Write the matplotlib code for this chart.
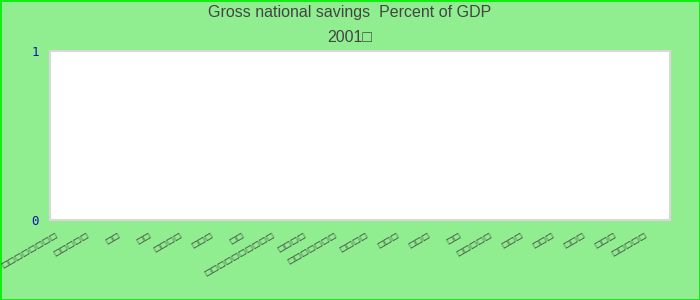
import numpy as np
import matplotlib.pyplot as plt

# category names render as missing-glyph boxes in the source chart
countries = [
    '□□□□□□□□', '□□□□□', '□□', '□□', '□□□□',
    '□□□', '□□', '□□□□□□□□□□', '□□□□', '□□□□□□□',
    '□□□□', '□□□', '□□□', '□□', '□□□□□',
    '□□□', '□□□', '□□□', '□□□', '□□□□□',
]
# no values shown for 2001
savings = [np.nan] * len(countries)

fig = plt.figure(figsize=(7, 3), dpi=100, facecolor='#90ee90',
                 edgecolor='#11ee11', linewidth=2)
ax = fig.add_axes([50/700, 1 - 220/300, 620/700, 169/300])
ax.set_facecolor('white')

x = np.arange(len(countries))
ax.bar(x, savings, width=0.6, color='#4572a7')
ax.set_xlim(-0.5, len(countries) - 0.5)
ax.set_ylim(0, 1)
ax.set_yticks([0, 1])
ax.set_yticklabels(['0', '1'], color='#1010b0', family='DejaVu Sans Mono',
                   fontsize=9)
# labels sit a little left of each category centre
ax.set_xticks(x - 0.34)
ax.set_xticklabels(countries, rotation=30, ha='right', va='top',
                   rotation_mode='anchor', fontsize=6.1, color='#333333')
ax.tick_params(axis='both', length=0)
ax.tick_params(axis='y', pad=8)
ax.tick_params(axis='x', pad=7)
for s in ax.spines.values():
    s.set_color('#d8d8d8')
    s.set_linewidth(1.5)

fig.text(0.5, 1 - 13/300, 'Gross national savings  Percent of GDP',
         ha='center', va='center', fontsize=11.5, color='#444444',
         family='Liberation Sans')
fig.text(0.5, 1 - 37/300, '2001□', ha='center', va='center',
         fontsize=11.5, color='#444444', family='Liberation Sans')

fig.savefig('out.png', dpi=100, facecolor=fig.get_facecolor(),
            edgecolor=fig.get_edgecolor())
